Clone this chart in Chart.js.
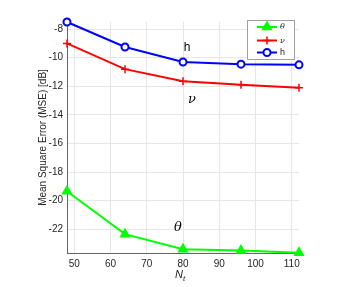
<!DOCTYPE html>
<html>
<head>
<meta charset="utf-8">
<script src="https://cdn.jsdelivr.net/npm/chart.js@4/dist/chart.umd.min.js"></script>
<style>
  html, body { margin: 0; padding: 0; background: #fff; }
  #wrap { width: 354px; height: 287px; }
</style>
</head>
<body>
<div id="wrap"><canvas id="mseChart" width="354" height="287"></canvas></div>
<script>
// number of antennas and MSE per estimated parameter
const nt = [48, 64, 80, 96, 112];
const thetaMse = [-19.35, -22.35, -23.4, -23.5, -23.65];
const nuMse = [-9.0, -10.8, -11.65, -11.9, -12.1];
const hMse = [-7.5, -9.25, -10.3, -10.45, -10.5];
const xTicks = [50, 60, 70, 80, 90, 100, 110];
const yTicks = [-22, -20, -18, -16, -14, -12, -10, -8];

const FONT = '"Liberation Sans", Arial, sans-serif';
const TXT = '#262626';

function pts(vals) {
    return nt.map((x, i) => ({ x: x, y: vals[i] }));
}

// labels next to the curves + legend box in the top right
const extras = {
    id: 'extras',
    afterDraw(chart) {
        const c = chart.ctx;
        const xs = chart.scales.x, ys = chart.scales.y;
        c.save();
        c.fillStyle = '#000';
        c.textAlign = 'center';
        c.textBaseline = 'middle';
        c.font = '12px ' + FONT;
        c.fillText('h', xs.getPixelForValue(81.1), ys.getPixelForValue(-9.3));
        c.font = 'italic 13px "DejaVu Serif", serif';
        c.fillText('ν', xs.getPixelForValue(82.5), ys.getPixelForValue(-12.95));
        c.fillText('θ', xs.getPixelForValue(78.6), ys.getPixelForValue(-21.9));

        // x axis title N_t
        c.fillStyle = TXT;
        c.font = 'italic 11px ' + FONT;
        c.textAlign = 'left';
        c.fillText('N', 175, 275);
        c.font = 'italic 8px ' + FONT;
        c.fillText('t', 183, 279);

        // legend
        const lx = 247, ly = 20, lw = 47, lh = 39;
        c.fillStyle = '#fff';
        c.fillRect(lx, ly, lw, lh);
        c.strokeStyle = '#a0a0a0';
        c.lineWidth = 1;
        c.strokeRect(lx + 0.5, ly + 0.5, lw, lh);
        const rows = [27, 40.5, 52.5];
        chart.data.datasets.forEach((ds, i) => {
            const y = rows[i];
            c.strokeStyle = ds.borderColor;
            c.lineWidth = 2;
            c.beginPath();
            c.moveTo(257, y);
            c.lineTo(277, y);
            c.stroke();
            c.fillStyle = ds.backgroundColor;
            c.lineWidth = ds.pointBorderWidth;
            Chart.helpers.drawPoint(c, {
                pointStyle: ds.pointStyle,
                radius: ds.pointRadius,
                borderWidth: ds.pointBorderWidth
            }, 267, y);
            c.fillStyle = TXT;
            c.textAlign = 'left';
            c.font = ds.legendFont;
            c.fillText(ds.label, 280, y);
        });
        c.restore();
    }
};

new Chart(document.getElementById('mseChart'), {
    type: 'line',
    data: {
        datasets: [
            {
                label: 'θ', data: pts(thetaMse),
                borderColor: '#00ff00', backgroundColor: '#00ff00',
                pointStyle: 'triangle', pointRadius: 5, pointBorderWidth: 1.5,
                legendFont: 'italic 8px "DejaVu Serif", serif'
            },
            {
                label: 'ν', data: pts(nuMse),
                borderColor: '#ff0000', backgroundColor: '#ff0000',
                pointStyle: 'cross', pointRadius: 4, pointBorderWidth: 1.5,
                legendFont: 'italic 8px "DejaVu Serif", serif'
            },
            {
                label: 'h', data: pts(hMse),
                borderColor: '#0000ff', backgroundColor: '#ffffff',
                pointStyle: 'circle', pointRadius: 3.5, pointBorderWidth: 2,
                legendFont: '9px ' + FONT
            }
        ]
    },
    options: {
        responsive: false,
        animation: false,
        clip: false,
        elements: { line: { borderWidth: 2, tension: 0 } },
        layout: { padding: { left: 37, top: 22, right: 55, bottom: 0 } },
        plugins: { legend: { display: false }, tooltip: { enabled: false } },
        scales: {
            x: {
                type: 'linear', min: 48, max: 112,
                afterBuildTicks: s => { s.ticks = xTicks.map(v => ({ value: v })); },
                afterFit: s => { s.height = 34; },
                grid: { color: '#e6e6e6', drawTicks: false },
                border: { color: '#666', width: 1 },
                ticks: { padding: 5, color: TXT, font: { size: 10, family: FONT }, maxRotation: 0 }
            },
            y: {
                min: -23.67, max: -7.5,
                afterBuildTicks: s => { s.ticks = yTicks.map(v => ({ value: v })); },
                afterFit: s => { s.width = 30; },
                grid: { color: '#e6e6e6', drawTicks: false },
                border: { color: '#666', width: 1 },
                ticks: { padding: 4, color: TXT, font: { size: 10, family: FONT } },
                title: {
                    display: true, text: 'Mean Square Error (MSE) [dB]',
                    color: TXT, font: { size: 10, family: FONT }, padding: 0
                }
            }
        }
    },
    plugins: [extras]
});
</script>
</body>
</html>
